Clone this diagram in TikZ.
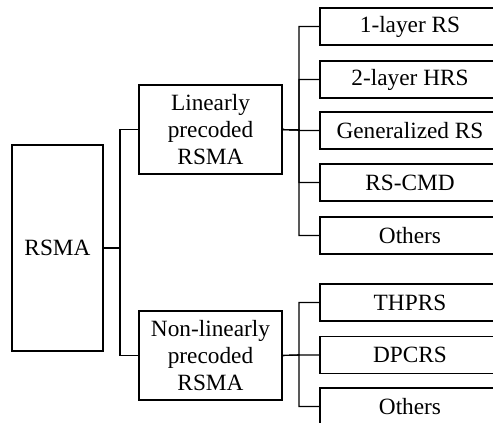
\documentclass[tikz,border=0pt]{standalone}
\usepackage{fontspec}
\setmainfont{Liberation Serif}
\begin{document}
\begin{tikzpicture}[x=1pt,y=-1pt,
  box/.style={draw, line width=1.1pt, rectangle, align=center, inner sep=0pt,
    font=\fontsize{23.3}{27}\selectfont},
  leaf/.style={box, minimum width=180pt, minimum height=37pt},
  mid/.style={box, minimum width=143pt, minimum height=89pt},
  link/.style={line width=1.1pt}]
\useasboundingbox (0,0) rectangle (493,423);
\clip (0,0) rectangle (493,423);

% root
\node[box, minimum width=91pt, minimum height=206pt] (root) at (57.5,248) {RSMA};

% second level
\node[mid] (lin) at (210.5,129.5) {Linearly\\precoded\\RSMA};
\node[mid] (nl)  at (210.5,355.5) {Non-linearly\\precoded\\RSMA};

% leaves of the linear branch
\node[leaf] (a1) at (410,26.5)  {1-layer RS};
\node[leaf] (a2) at (410,79.5)  {2-layer HRS};
\node[leaf] (a3) at (410,130.5) {Generalized RS};
\node[leaf] (a4) at (410,182.5) {RS-CMD};
\node[leaf] (a5) at (410,235.5) {Others};

% leaves of the non-linear branch
\node[leaf] (b1) at (410,302.5) {THPRS};
\node[leaf] (b2) at (410,355)   {DPCRS};
\node[leaf] (b3) at (410,406.5) {Others};

% junction points
\coordinate (j0) at (120,248);
\coordinate (j1) at (299,130);
\coordinate (j2) at (299,355);

% connectors
\draw[link] (root.east) -- (j0);
\draw[link] (j0) |- (lin.west);
\draw[link] (j0) |- (nl.west);
\foreach \n in {a1,a2,a3,a4,a5}
  \draw[link] (lin.east) -- (j1) |- (\n.west);
\foreach \n in {b1,b2,b3}
  \draw[link] (nl.east) -- (j2) |- (\n.west);
\end{tikzpicture}
\end{document}
